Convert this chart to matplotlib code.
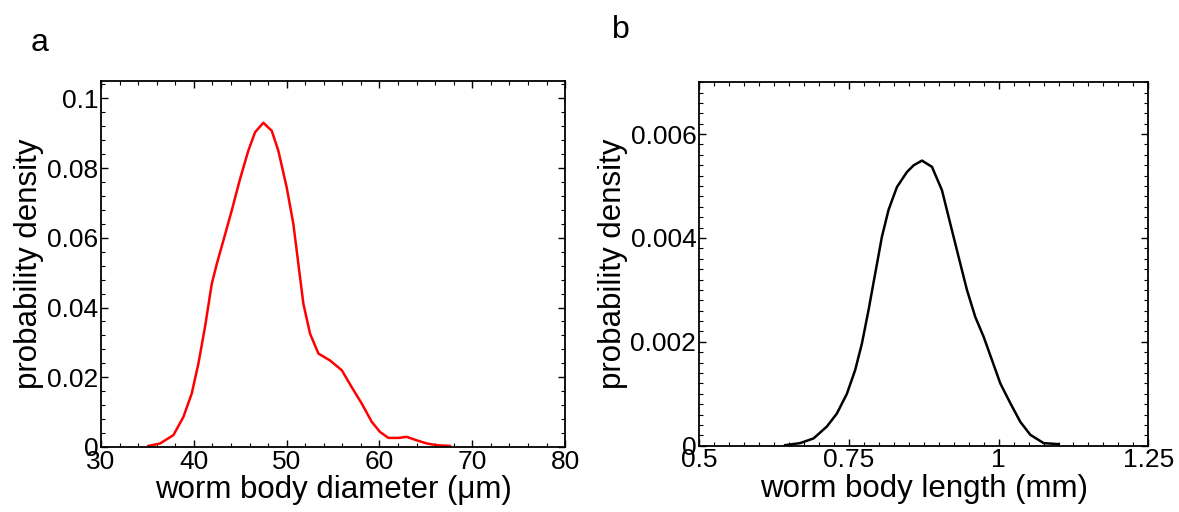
import numpy as np
import matplotlib.pyplot as plt
from matplotlib.ticker import MultipleLocator

plt.rcParams["font.family"] = ["Liberation Sans", "DejaVu Sans"]

# panel a: worm body diameter density
diam_x = [35.1, 36.36, 37.8, 38.87, 39.77, 40.49, 41.2, 41.93, 42.47, 43.18, 44.08,
          44.98, 45.87, 46.6, 47.49, 48.39, 49.1, 50.0, 50.72, 51.26, 51.8, 52.52,
          53.42, 54.68, 55.94, 57.0, 58.1, 59.17, 60.06, 60.96, 62.04, 62.94, 64.02,
          65.1, 66.2, 67.6]
diam_y = [0.0003, 0.001, 0.0034, 0.0086, 0.0153, 0.0239, 0.0344, 0.0468, 0.0525,
          0.0592, 0.0678, 0.0769, 0.085, 0.0903, 0.093, 0.0907, 0.085, 0.0745, 0.064,
          0.0525, 0.0411, 0.0325, 0.0268, 0.0248, 0.022, 0.0172, 0.0124, 0.0072,
          0.0043, 0.0026, 0.0026, 0.0029, 0.0019, 0.001, 0.0005, 0.0003]

# panel b: worm body length density
len_x = [0.6436, 0.6687, 0.691, 0.7133, 0.73, 0.7467, 0.7606, 0.7718, 0.7828, 0.794,
         0.8051, 0.8162, 0.8302, 0.8469, 0.8582, 0.872, 0.8887, 0.9054, 0.9192,
         0.9331, 0.9471, 0.961, 0.9749, 0.9889, 1.0028, 1.0195, 1.0362, 1.0529,
         1.0751, 1.1001]
len_y = [0.00001, 0.00005, 0.00014, 0.00037, 0.00062, 0.001, 0.00146, 0.00197,
         0.00261, 0.00332, 0.00402, 0.00454, 0.00498, 0.00527, 0.0054, 0.00549,
         0.00537, 0.00492, 0.00428, 0.00364, 0.003, 0.00248, 0.0021, 0.00165,
         0.0012, 0.00082, 0.00046, 0.00021, 0.00005, 0.00003]

a_xticks = [30, 40, 50, 60, 70, 80]
a_yticks = [0, 0.02, 0.04, 0.06, 0.08, 0.1]
a_ylabels = ["0", "0.02", "0.04", "0.06", "0.08", "0.1"]
b_xticks = [0.5, 0.75, 1.0, 1.25]
b_xlabels = ["0.5", "0.75", "1", "1.25"]
b_yticks = [0, 0.002, 0.004, 0.006]
b_ylabels = ["0", "0.002", "0.004", "0.006"]

fig = plt.figure(figsize=(11.79, 5.12), dpi=100)
ax1 = fig.add_axes([0.0857, 0.127, 0.3936, 0.715])
ax2 = fig.add_axes([0.593, 0.1295, 0.381, 0.710])


def style(ax, xminor, yminor):
    for s in ax.spines.values():
        s.set_linewidth(1.3)
    ax.tick_params(which="both", direction="in", top=True, right=True,
                   labelsize=19, width=1.0)
    ax.tick_params(axis="x", pad=2)
    ax.tick_params(axis="y", pad=2)
    ax.tick_params(which="major", length=5)
    ax.tick_params(which="minor", length=3, width=0.8)
    ax.xaxis.set_minor_locator(MultipleLocator(xminor))
    ax.yaxis.set_minor_locator(MultipleLocator(yminor))


ax1.plot(diam_x, diam_y, color="red", lw=1.8)
ax1.set_xlim(30, 80)
ax1.set_ylim(0, 0.105)
ax1.set_xticks(a_xticks)
ax1.set_xticklabels([str(v) for v in a_xticks])
ax1.set_yticks(a_yticks)
ax1.set_yticklabels(a_ylabels)
style(ax1, 2, 0.004)
ax1.set_xlabel("worm body diameter (μm)", fontsize=22.5, labelpad=1)
ax1.set_ylabel("probability density", fontsize=22.5, labelpad=2)

ax2.plot(len_x, len_y, color="black", lw=1.8)
ax2.set_xlim(0.5, 1.25)
ax2.set_ylim(0, 0.007)
ax2.set_xticks(b_xticks)
ax2.set_xticklabels(b_xlabels)
ax2.set_yticks(b_yticks)
ax2.set_yticklabels(b_ylabels)
style(ax2, 0.025, 0.0002)
ax2.set_xlabel("worm body length (mm)", fontsize=22.5, labelpad=1)
ax2.set_ylabel("probability density", fontsize=22.5, labelpad=2)

fig.text(0.026, 0.9, "a", fontsize=23)
fig.text(0.519, 0.925, "b", fontsize=23)

fig.savefig("out.png", dpi=100)
